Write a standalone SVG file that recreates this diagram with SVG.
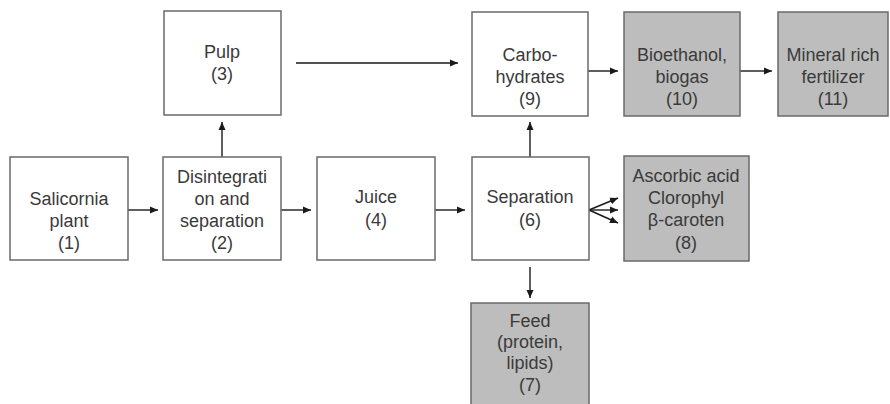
<svg xmlns="http://www.w3.org/2000/svg" width="890" height="404" viewBox="0 0 890 404">
  <style>
    .box { fill: #ffffff; stroke: #6a6a6a; stroke-width: 1.5; }
    .grey { fill: #bdbdbd; }
    text { font-family: "Liberation Sans", Arial, sans-serif; font-size: 18px; fill: #3a3a3a; text-anchor: middle; }
    .conn { stroke: #1a1a1a; stroke-width: 1.4; fill: none; marker-end: url(#head); }
  </style>
  <defs>
    <marker id="head" markerUnits="userSpaceOnUse" markerWidth="9" markerHeight="8" refX="8" refY="4" orient="auto">
      <path d="M0,0.5 L8,4 L0,7.5 Z" fill="#1a1a1a"/>
    </marker>
  </defs>
  <rect width="890" height="404" fill="#ffffff"/>

  <g id="connectors">
    <line class="conn" x1="128" y1="210" x2="158" y2="210"/>
    <line class="conn" x1="281" y1="210" x2="311" y2="210"/>
    <line class="conn" x1="435" y1="210" x2="465" y2="210"/>
    <line class="conn" x1="222" y1="157" x2="222" y2="122"/>
    <line class="conn" x1="296" y1="63" x2="458" y2="63"/>
    <line class="conn" x1="530" y1="157" x2="530" y2="122"/>
    <line class="conn" x1="530" y1="267" x2="530" y2="298"/>
    <line class="conn" x1="589" y1="210" x2="618" y2="198"/>
    <line class="conn" x1="589" y1="210" x2="618" y2="210"/>
    <line class="conn" x1="589" y1="210" x2="618" y2="223"/>
    <line class="conn" x1="588" y1="71" x2="618" y2="71"/>
    <line class="conn" x1="740" y1="71" x2="772" y2="71"/>
  </g>

  <g id="node1">
    <rect class="box" x="10" y="157" width="118" height="103"/>
    <text x="69" y="205">Salicornia</text>
    <text x="69" y="227">plant</text>
    <text x="69" y="249">(1)</text>
  </g>
  <g id="node2">
    <rect class="box" x="163" y="157" width="118" height="103"/>
    <text x="222" y="183">Disintegrati</text>
    <text x="222" y="205">on and</text>
    <text x="222" y="227">separation</text>
    <text x="222" y="249">(2)</text>
  </g>
  <g id="node3">
    <rect class="box" x="164" y="11" width="117" height="104"/>
    <text x="222" y="58">Pulp</text>
    <text x="222" y="80">(3)</text>
  </g>
  <g id="node4">
    <rect class="box" x="317" y="157" width="118" height="103"/>
    <text x="376" y="203">Juice</text>
    <text x="376" y="226">(4)</text>
  </g>
  <g id="node6">
    <rect class="box" x="472" y="157" width="117" height="103"/>
    <text x="530" y="203">Separation</text>
    <text x="530" y="226">(6)</text>
  </g>
  <g id="node7">
    <rect class="box grey" x="471" y="303" width="118" height="110"/>
    <text x="530" y="327">Feed</text>
    <text x="530" y="348">(protein,</text>
    <text x="530" y="369">lipids)</text>
    <text x="530" y="391">(7)</text>
  </g>
  <g id="node8">
    <rect class="box grey" x="624" y="156" width="125" height="105"/>
    <text x="686" y="182">Ascorbic acid</text>
    <text x="686" y="204">Clorophyl</text>
    <text x="686" y="226">β-caroten</text>
    <text x="686" y="249">(8)</text>
  </g>
  <g id="node9">
    <rect class="box" x="472" y="12" width="116" height="104"/>
    <text x="530" y="61">Carbo-</text>
    <text x="530" y="83">hydrates</text>
    <text x="530" y="105">(9)</text>
  </g>
  <g id="node10">
    <rect class="box grey" x="624" y="12" width="116" height="104"/>
    <text x="682" y="61">Bioethanol,</text>
    <text x="682" y="83">biogas</text>
    <text x="682" y="105">(10)</text>
  </g>
  <g id="node11">
    <rect class="box grey" x="778" y="12" width="110" height="104"/>
    <text x="833" y="61">Mineral rich</text>
    <text x="833" y="83">fertilizer</text>
    <text x="833" y="105">(11)</text>
  </g>
</svg>
